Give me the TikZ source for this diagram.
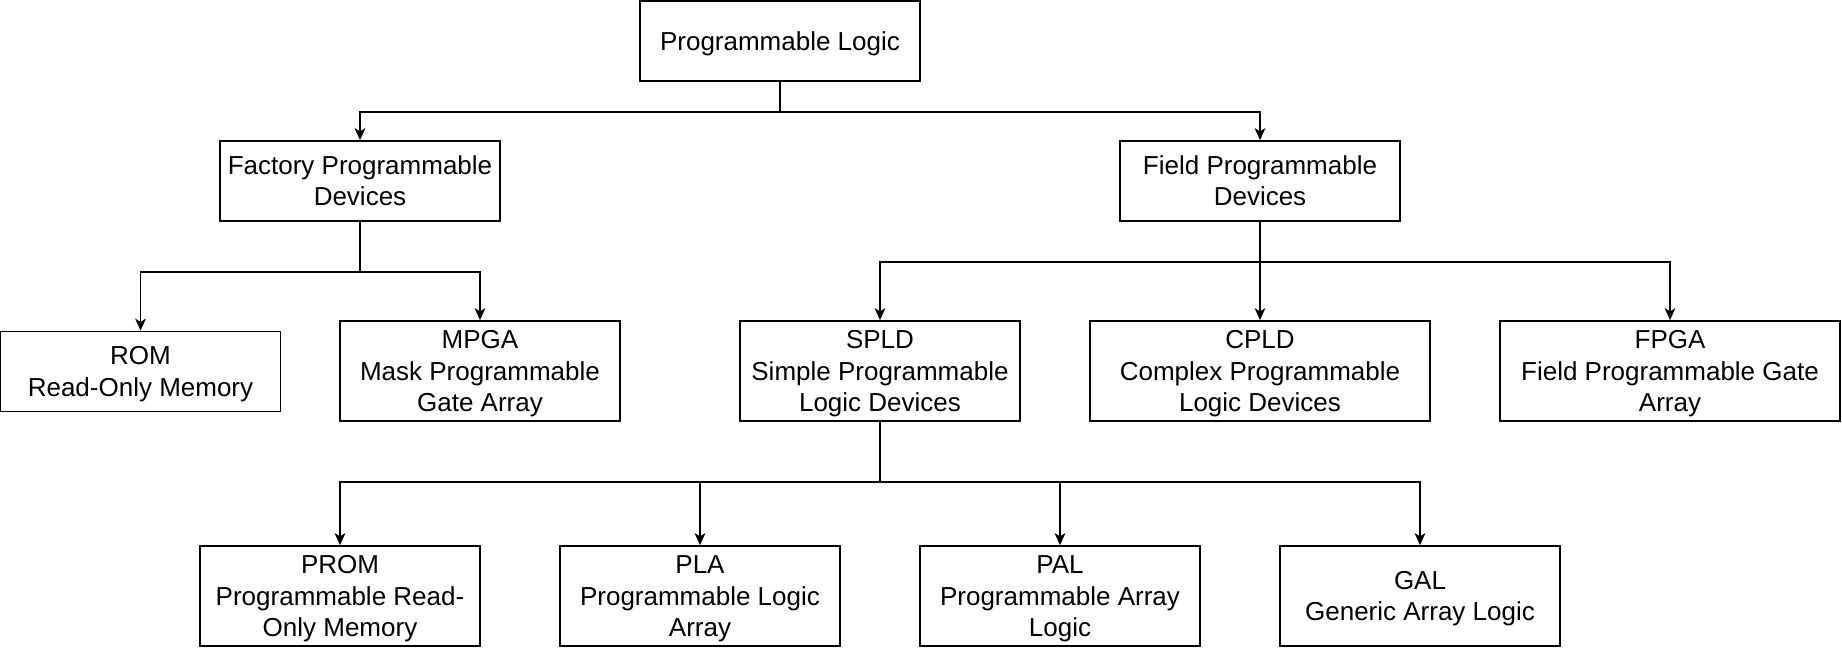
\documentclass[tikz,border=0pt]{standalone}
\usepackage{fontspec}
\setmainfont{Liberation Sans}
\usetikzlibrary{arrows.meta}
\newcommand\dstrutx{\rule[-4.9pt]{0pt}{23.4pt}}
\tikzset{
  box/.style={draw=black, line width=1.3pt, inner sep=0pt, align=center,
    minimum width=210pt, minimum height=60pt,
    font=\fontsize{19.5pt}{23.4pt}\selectfont},
  wide/.style={minimum width=255pt},
  tall/.style={minimum height=75pt},
  arr/.style={draw=black, line width=1.3pt,
    -{Stealth[length=9pt, width=8pt, inset=2.5pt]}}
}
\begin{document}
\begin{tikzpicture}[x=0.75pt,y=-0.75pt]
\useasboundingbox (0,0) rectangle (1842,648);
\node[box] (top) at (780,41) {\dstrutx Programmable Logic};
\node[box] (fact) at (360,181) {\dstrutx Factory Programmable\\\dstrutx Devices};
\node[box] (field) at (1260,181) {\dstrutx Field Programmable\\\dstrutx Devices};
\node[box] (rom) at (140.5,371.5) {\dstrutx ROM\\\dstrutx Read-Only Memory};
\node[box,tall] (mpga) at (480,371) {\dstrutx MPGA\\\dstrutx Mask Programmable\\\dstrutx Gate Array};
\node[box,tall] (spld) at (880,371) {\dstrutx SPLD\\\dstrutx Simple Programmable\\\dstrutx Logic Devices};
\node[box,tall,wide] (cpld) at (1260,371) {\dstrutx CPLD\\\dstrutx Complex Programmable\\\dstrutx Logic Devices};
\node[box,tall,wide] (fpga) at (1670,371) {\dstrutx FPGA\\\dstrutx Field Programmable Gate\\\dstrutx Array};
\node[box,tall] (prom) at (340,596) {\dstrutx PROM\\\dstrutx Programmable Read-\\\dstrutx Only Memory};
\node[box,tall] (pla) at (700,596) {\dstrutx PLA\\\dstrutx Programmable Logic\\\dstrutx Array};
\node[box,tall] (pal) at (1060,596) {\dstrutx PAL\\\dstrutx Programmable Array\\\dstrutx Logic};
\node[box,tall] (gal) at (1420,596) {\dstrutx GAL\\\dstrutx Generic Array Logic};

\draw[arr] (top.south) -- ++(0,30) -| (fact.north);
\draw[arr] (top.south) -- ++(0,30) -| (field.north);

\draw[arr] (fact.south) -- ++(0,50) -| (rom.north);
\draw[arr] (fact.south) -- ++(0,50) -| (mpga.north);

\draw[arr] (field.south) -- ++(0,40) -| (spld.north);
\draw[arr] (field.south) -- (cpld.north);
\draw[arr] (field.south) -- ++(0,40) -| (fpga.north);

\draw[arr] (spld.south) -- ++(0,60) -| (prom.north);
\draw[arr] (spld.south) -- ++(0,60) -| (pla.north);
\draw[arr] (spld.south) -- ++(0,60) -| (pal.north);
\draw[arr] (spld.south) -- ++(0,60) -| (gal.north);
\end{tikzpicture}
\end{document}
